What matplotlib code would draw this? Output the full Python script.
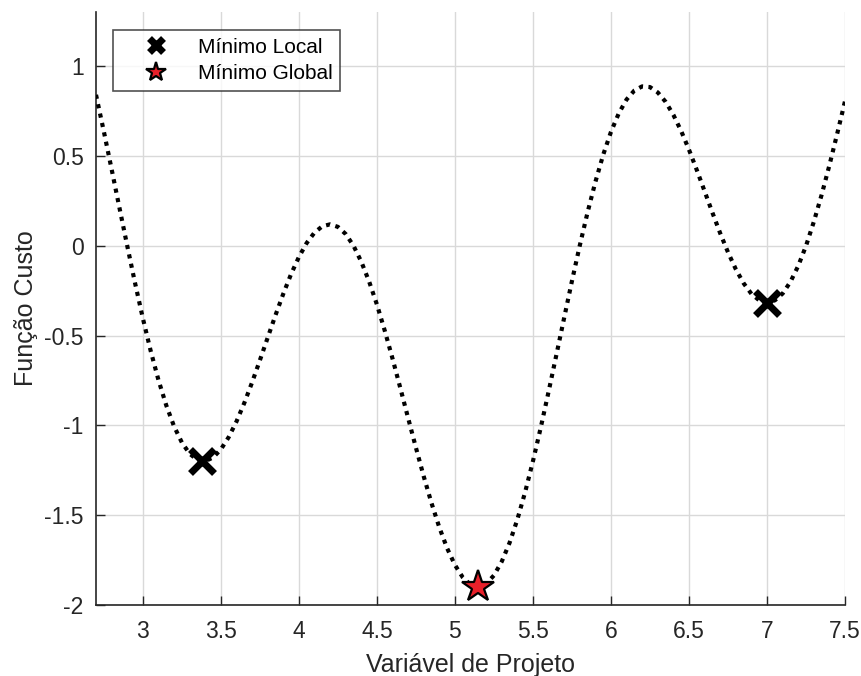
import matplotlib
matplotlib.use("Agg")
import matplotlib.pyplot as plt

plt.rcParams["font.family"] = ["Liberation Sans", "DejaVu Sans"]

# curve
x_vals = [2.70, 2.75, 2.80, 2.85, 2.90, 2.95, 3.00, 3.05, 3.10, 3.15,
          3.20, 3.25, 3.30, 3.35, 3.40, 3.45, 3.50, 3.55, 3.60, 3.65,
          3.70, 3.75, 3.80, 3.85, 3.90, 3.95, 4.00, 4.05, 4.10, 4.15,
          4.20, 4.25, 4.30, 4.35, 4.40, 4.45, 4.50, 4.55, 4.60, 4.65,
          4.70, 4.75, 4.80, 4.85, 4.90, 4.95, 5.00, 5.05, 5.10, 5.15,
          5.20, 5.25, 5.30, 5.35, 5.40, 5.45, 5.50, 5.55, 5.60, 5.65,
          5.70, 5.75, 5.80, 5.85, 5.90, 5.95, 6.00, 6.05, 6.10, 6.15,
          6.20, 6.25, 6.30, 6.35, 6.40, 6.45, 6.50, 6.55, 6.60, 6.65,
          6.70, 6.75, 6.80, 6.85, 6.90, 6.95, 7.00, 7.05, 7.10, 7.15,
          7.20, 7.25, 7.30, 7.35, 7.40, 7.45, 7.50]
y_vals = [0.840, 0.637, 0.426, 0.212, -0.000, -0.207, -0.403, -0.584, -0.747, -0.888,
          -1.005, -1.095, -1.158, -1.192, -1.199, -1.179, -1.134, -1.066, -0.979, -0.876,
          -0.761, -0.638, -0.512, -0.387, -0.268, -0.158, -0.063, 0.015, 0.073, 0.108,
          0.119, 0.105, 0.065, -0.000, -0.089, -0.199, -0.327, -0.472, -0.628, -0.792,
          -0.959, -1.124, -1.284, -1.433, -1.568, -1.684, -1.777, -1.846, -1.887, -1.900,
          -1.882, -1.835, -1.758, -1.654, -1.524, -1.371, -1.199, -1.012, -0.813, -0.608,
          -0.401, -0.196, 0.001, 0.186, 0.355, 0.506, 0.634, 0.737, 0.814, 0.864,
          0.887, 0.883, 0.853, 0.801, 0.728, 0.638, 0.534, 0.421, 0.303, 0.184,
          0.069, -0.037, -0.131, -0.209, -0.268, -0.304, -0.317, -0.304, -0.266, -0.201,
          -0.112, 0.000, 0.134, 0.284, 0.449, 0.625, 0.806]

local_x = [3.38, 7.00]
local_y = [-1.20, -0.32]
global_x = [5.146]
global_y = [-1.90]

x_ticks = [3, 3.5, 4, 4.5, 5, 5.5, 6, 6.5, 7, 7.5]
x_ticklabels = ["3", "3.5", "4", "4.5", "5", "5.5", "6", "6.5", "7", "7.5"]
y_ticks = [-2, -1.5, -1, -0.5, 0, 0.5, 1]
y_ticklabels = ["-2", "-1.5", "-1", "-0.5", "0", "0.5", "1"]

axis_col = "#262626"

fig = plt.figure(figsize=(8.61, 6.76), dpi=100)
ax = fig.add_axes([0.1115, 0.105, 0.87, 0.877])

ax.plot(x_vals, y_vals, color="black", linestyle=(0, (1, 1.3)), linewidth=3.0, zorder=3)
ax.plot(local_x, local_y, linestyle="none", marker="x", markersize=17, markeredgewidth=5,
        color="black", label="Mínimo Local", zorder=4)
ax.plot(global_x, global_y, linestyle="none", marker="*", markersize=24, markeredgewidth=1.6,
        markerfacecolor="#e8202a", markeredgecolor="black", label="Mínimo Global", zorder=5)

ax.set_xlim(2.7, 7.5)
ax.set_ylim(-2, 1.3)
ax.set_xticks(x_ticks)
ax.set_xticklabels(x_ticklabels)
ax.set_yticks(y_ticks)
ax.set_yticklabels(y_ticklabels)

ax.grid(True, color="#d9d9d9", linewidth=1.0)
ax.set_axisbelow(True)
for side in ("top", "right"):
    ax.spines[side].set_visible(False)
for side in ("left", "bottom"):
    ax.spines[side].set_color(axis_col)
    ax.spines[side].set_linewidth(1.2)

ax.tick_params(direction="in", length=6.5, width=1.0, colors=axis_col, labelsize=16.5)
ax.tick_params(axis="x", pad=11)
ax.tick_params(axis="y", pad=9)
ax.set_xlabel("Variável de Projeto", fontsize=18, color=axis_col, labelpad=7)
ax.set_ylabel("Função Custo", fontsize=18, color=axis_col, labelpad=4)

leg = ax.legend(loc="upper left", bbox_to_anchor=(0.0227, 0.9696), borderaxespad=0,
                fontsize=15, frameon=True, fancybox=False, edgecolor=axis_col,
                markerscale=0.6, handlelength=3.4, borderpad=0.36, labelspacing=0.36,
                handletextpad=0.3)
leg.get_frame().set_linewidth(1.2)

fig.savefig("out.png", dpi=100, facecolor="white")
